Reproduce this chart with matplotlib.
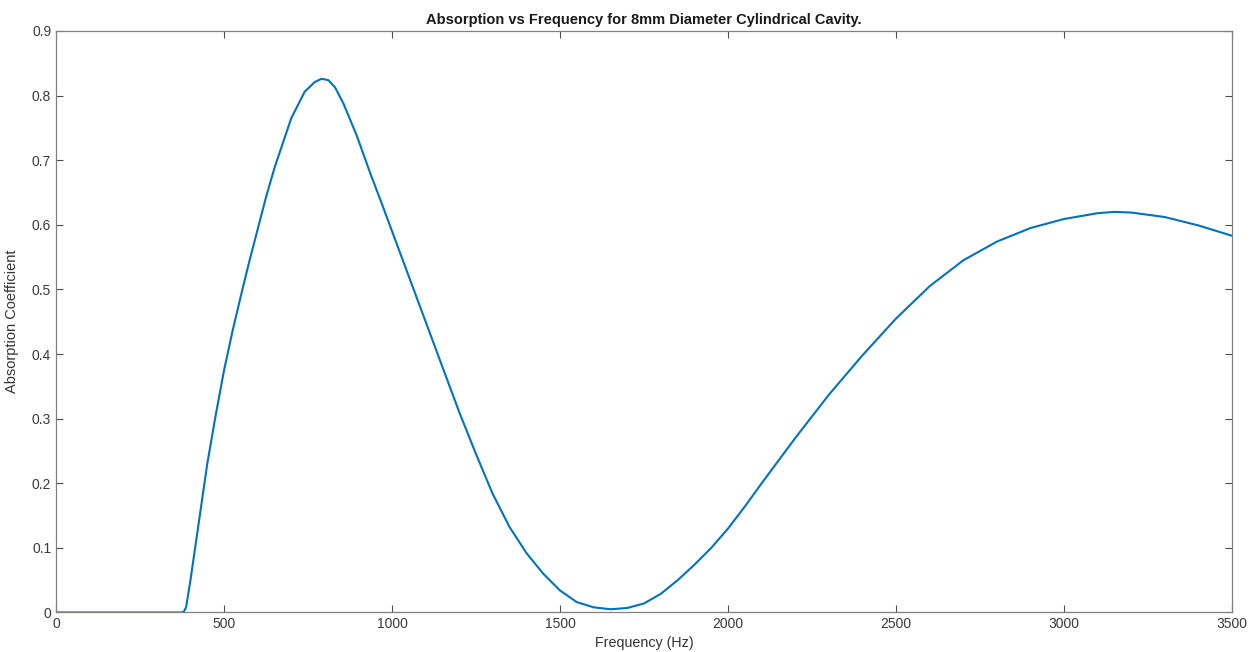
import matplotlib.pyplot as plt

# valores
freq = [0, 100, 200, 300, 370, 380, 387, 400, 425, 450, 475, 500, 525, 550,
        575, 600, 625, 650, 700, 740, 770, 790, 810, 830, 855, 895, 935, 970,
        1000, 1050, 1100, 1150, 1200, 1250, 1300, 1350, 1400, 1450, 1500,
        1550, 1600, 1650, 1700, 1750, 1800, 1850, 1900, 1950, 2000, 2050,
        2100, 2150, 2200, 2300, 2400, 2500, 2600, 2700, 2800, 2900, 3000,
        3100, 3150, 3200, 3300, 3400, 3500]
absorcion = [0, 0, 0, 0, 0, 0.001, 0.008, 0.05, 0.14, 0.23, 0.305, 0.375,
             0.435, 0.49, 0.543, 0.593, 0.643, 0.688, 0.765, 0.806, 0.821,
             0.826, 0.824, 0.813, 0.788, 0.738, 0.68, 0.632, 0.59, 0.52, 0.45,
             0.38, 0.31, 0.245, 0.183, 0.132, 0.092, 0.06, 0.034, 0.016, 0.008,
             0.005, 0.007, 0.014, 0.029, 0.05, 0.074, 0.1, 0.13, 0.164, 0.2,
             0.235, 0.27, 0.337, 0.398, 0.455, 0.505, 0.545, 0.574, 0.595,
             0.609, 0.618, 0.62, 0.619, 0.612, 0.599, 0.583]

xticks = [0, 500, 1000, 1500, 2000, 2500, 3000, 3500]
yticks = [0, 0.1, 0.2, 0.3, 0.4, 0.5, 0.6, 0.7, 0.8, 0.9]

plt.rcParams['font.family'] = ['Liberation Sans', 'DejaVu Sans']
gris = '#4d4d4d'

fig = plt.figure(figsize=(12.54, 6.52), dpi=100)
ax = fig.add_axes([0.0447, 0.0606, 0.9378, 0.8919])
ax.plot(freq, absorcion, color='#0072BD', linewidth=1.5)

ax.set_xlim(0, 3500)
ax.set_ylim(0, 0.9)
ax.set_xticks(xticks)
ax.set_yticks(yticks)
ax.set_xticklabels([str(v) for v in xticks])
ax.set_yticklabels(['0'] + ['%.1f' % v for v in yticks[1:]])
ax.tick_params(direction='in', top=True, right=True, length=5, width=0.8,
               colors=gris, labelsize=10, labelcolor='#3a3a3a')
for s in ax.spines.values():
    s.set_color('#808080')
    s.set_linewidth(0.9)

ax.set_title('Absorption vs Frequency for 8mm Diameter Cylindrical Cavity.',
             fontsize=10.5, fontweight='bold', color='#1a1a1a', pad=5)
ax.set_xlabel('Frequency (Hz)', fontsize=10.3, color='#333333', labelpad=3)
ax.set_ylabel('Absorption Coefficient', fontsize=10.5, color='#333333', labelpad=9)

fig.savefig('out.png', dpi=100)
